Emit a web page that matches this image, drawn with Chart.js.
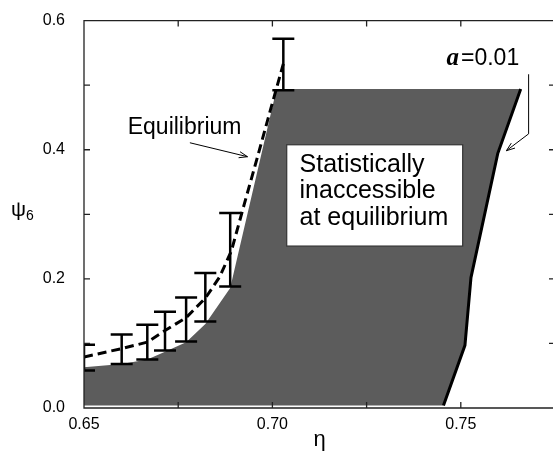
<!DOCTYPE html>
<html>
<head>
<meta charset="utf-8">
<script src="https://cdn.jsdelivr.net/npm/chart.js@4.4.0/dist/chart.umd.min.js"></script>
<style>
html, body { margin: 0; padding: 0; background: #fff; overflow: hidden; width: 553px; height: 453px; }
#wrap { width: 553px; height: 453px; position: relative; overflow: hidden; }
#myChart { position: absolute; left: 0; top: 0; }
</style>
</head>
<body>
<div id="wrap"><canvas id="myChart" width="560" height="453"></canvas></div>
<script>
// error bars of the simulation points
const etaBars = [0.65, 0.66, 0.6668, 0.6715, 0.6771, 0.6822, 0.6888, 0.7029];
const psiLow = [0.058, 0.068, 0.075, 0.089, 0.103, 0.134, 0.188, 0.492];
const psiHigh = [0.098, 0.114, 0.129, 0.149, 0.171, 0.209, 0.302, 0.572];

// dashed equilibrium curve
const eqEta = [0.65, 0.66, 0.6668, 0.6715, 0.6771, 0.6822, 0.686, 0.6891, 0.6925, 0.696, 0.6995, 0.7029];
const eqPsi = [0.079, 0.092, 0.102, 0.12, 0.14, 0.17, 0.203, 0.243, 0.315, 0.388, 0.462, 0.533];

// upper edge of the grey (inaccessible) region
const greyEta = [0.65, 0.66, 0.6668, 0.6715, 0.6771, 0.6822, 0.6888, 0.7011, 0.7659];
const greyPsi = [0.063, 0.068, 0.075, 0.087, 0.102, 0.13, 0.186, 0.494, 0.494];

// a = 0.01 boundary line (also the lower right edge of the grey region)
const aEta = [0.7454, 0.7511, 0.7527, 0.7598, 0.7659];
const aPsi = [0.004, 0.097, 0.202, 0.394, 0.494];

const xTickLabels = ['0.65', '0.70', '0.75'];
const yTickLabels = ['0.0', '0.2', '0.4', '0.6'];

const pts = (xs, ys) => xs.map((v, i) => ({x: v, y: ys[i]}));

Chart.defaults.font.family = '"Liberation Sans", Arial, sans-serif';
Chart.defaults.color = '#000';

function arrow(ctx, x1, y1, x2, y2) {
    const ang = Math.atan2(y2 - y1, x2 - x1);
    ctx.beginPath();
    ctx.moveTo(x1, y1);
    ctx.lineTo(x2, y2);
    ctx.moveTo(x2 - 9 * Math.cos(ang - 0.35), y2 - 9 * Math.sin(ang - 0.35));
    ctx.lineTo(x2, y2);
    ctx.lineTo(x2 - 9 * Math.cos(ang + 0.35), y2 - 9 * Math.sin(ang + 0.35));
    ctx.stroke();
}

const errorBars = {
    id: 'errorBars',
    afterDatasetsDraw(chart) {
        const {ctx, chartArea: a, scales: {x, y}} = chart;
        ctx.save();
        ctx.beginPath();
        ctx.rect(a.left, a.top, a.right - a.left, a.bottom - a.top);
        ctx.clip();
        ctx.strokeStyle = '#000';
        ctx.lineWidth = 2.5;
        etaBars.forEach((e, i) => {
            const px = x.getPixelForValue(e);
            const lo = y.getPixelForValue(psiLow[i]);
            const hi = y.getPixelForValue(psiHigh[i]);
            ctx.beginPath();
            ctx.moveTo(px, lo); ctx.lineTo(px, hi);
            ctx.moveTo(px - 11, lo); ctx.lineTo(px + 11, lo);
            ctx.moveTo(px - 11, hi); ctx.lineTo(px + 11, hi);
            ctx.stroke();
        });
        ctx.restore();
    }
};

// box round the plot (right edge falls outside the picture) with inward ticks
const frame = {
    id: 'frame',
    afterDraw(chart) {
        const {ctx, chartArea: a, scales: {x, y}} = chart;
        ctx.save();
        ctx.strokeStyle = '#222';
        ctx.lineWidth = 1.3;
        ctx.beginPath();
        ctx.moveTo(a.right + 2, a.top);
        ctx.lineTo(a.left, a.top);
        ctx.lineTo(a.left, a.bottom);
        ctx.lineTo(a.right + 2, a.bottom);
        x.ticks.forEach(t => {
            const p = x.getPixelForValue(t.value);
            ctx.moveTo(p, a.bottom); ctx.lineTo(p, a.bottom - 6);
            ctx.moveTo(p, a.top); ctx.lineTo(p, a.top + 6);
        });
        y.ticks.forEach(t => {
            const p = y.getPixelForValue(t.value);
            ctx.moveTo(a.left, p); ctx.lineTo(a.left + 6, p);
            ctx.moveTo(a.right, p); ctx.lineTo(a.right - 6, p);
        });
        ctx.stroke();
        ctx.restore();
    }
};

const notes = {
    id: 'notes',
    afterDraw(chart) {
        const {ctx, scales: {x, y}} = chart;
        const px = v => x.getPixelForValue(v);
        const py = v => y.getPixelForValue(v);
        ctx.save();
        ctx.fillStyle = '#000';
        ctx.strokeStyle = '#000';
        ctx.textBaseline = 'alphabetic';
        ctx.textAlign = 'left';

        // Equilibrium label + arrow
        ctx.font = '23px "Liberation Sans"';
        ctx.fillText('Equilibrium', px(0.6616), py(0.4246));
        ctx.lineWidth = 1;
        arrow(ctx, px(0.6781), py(0.4108), px(0.6934), py(0.3892));

        // boxed text
        const bx = px(0.7038), by = py(0.4077);
        const bw = px(0.7505) - bx, bh = py(0.2508) - by;
        ctx.fillStyle = '#fff';
        ctx.fillRect(bx, by, bw, bh);
        ctx.lineWidth = 1.2;
        ctx.strokeStyle = '#333';
        ctx.strokeRect(bx, by, bw, bh);
        ctx.fillStyle = '#000';
        ctx.font = '25px "Liberation Sans"';
        ctx.fillText('Statistically', px(0.7072), py(0.3662));
        ctx.fillText('inaccessible', px(0.7072), py(0.3246));
        ctx.fillText('at equilibrium', px(0.7072), py(0.2831));

        // a = 0.01 label + leader
        ctx.font = 'italic bold 25px "Liberation Serif"';
        ctx.fillText('a', px(0.7462), py(0.5308));
        const w = ctx.measureText('a').width;
        ctx.font = '23px "Liberation Sans"';
        ctx.fillText('=0.01', px(0.7462) + w + 2, py(0.5308));
        ctx.strokeStyle = '#000';
        ctx.lineWidth = 1;
        ctx.beginPath();
        ctx.moveTo(px(0.768), py(0.5169));
        ctx.lineTo(px(0.768), py(0.4246));
        ctx.stroke();
        arrow(ctx, px(0.768), py(0.4246), px(0.7621), py(0.3985));

        // y axis label psi_6
        ctx.font = '21px "Liberation Sans"';
        ctx.fillText('ψ', 11, 216);
        ctx.font = '14px "Liberation Sans"';
        ctx.fillText('6', 26, 220);
        ctx.restore();
    }
};

const ctx = document.getElementById('myChart');

new Chart(ctx, {
    type: 'scatter',
    data: {
        datasets: [{
            label: 'inaccessible',
            data: pts(greyEta, greyPsi),
            showLine: true,
            borderWidth: 0,
            borderColor: 'rgba(0,0,0,0)',
            backgroundColor: '#5c5c5c',
            pointRadius: 0,
            fill: '+1',
            order: 3
        }, {
            label: 'floor',
            data: [{x: greyEta[0], y: aPsi[0]}].concat(pts(aEta, aPsi)),
            showLine: true,
            borderWidth: 0,
            borderColor: 'rgba(0,0,0,0)',
            pointRadius: 0,
            fill: false,
            order: 4
        }, {
            label: 'a = 0.01',
            data: pts(aEta, aPsi),
            showLine: true,
            borderColor: '#000',
            borderWidth: 3,
            pointRadius: 0,
            order: 1
        }, {
            label: 'Equilibrium',
            data: pts(eqEta, eqPsi),
            showLine: true,
            borderColor: '#000',
            borderWidth: 3,
            borderDash: [9, 5],
            pointRadius: 0,
            order: 0
        }]
    },
    options: {
        responsive: false,
        animation: false,
        layout: { padding: { top: 18, right: 5 } },
        plugins: {
            legend: { display: false },
            tooltip: { enabled: false }
        },
        scales: {
            x: {
                type: 'linear',
                min: 0.65,
                max: 0.775,
                grid: { display: false },
                border: { display: false },
                ticks: {
                    stepSize: 0.025,
                    autoSkip: false,
                    maxRotation: 0,
                    padding: -1,
                    font: { size: 16 },
                    callback: v => {
                        const s = v.toFixed(2);
                        return xTickLabels.includes(s) ? s : '';
                    }
                },
                title: {
                    display: true,
                    text: 'η',
                    font: { size: 22 },
                    padding: { top: 0, bottom: 0 }
                },
                afterFit: s => { s.height = 45; }
            },
            y: {
                min: 0,
                max: 0.6,
                grid: { display: false },
                border: { display: false },
                ticks: {
                    stepSize: 0.1,
                    padding: 11,
                    font: { size: 16 },
                    callback: v => {
                        const s = v.toFixed(1);
                        return yTickLabels.includes(s) ? s : '';
                    }
                },
                afterFit: s => { s.width = 84; }
            }
        }
    },
    plugins: [errorBars, frame, notes]
});
</script>
</body>
</html>
